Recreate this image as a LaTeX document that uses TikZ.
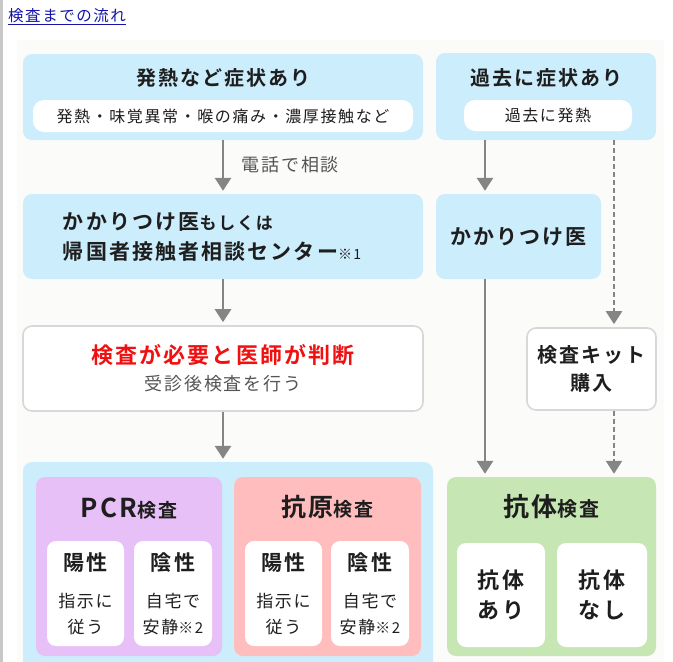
\documentclass[tikz,border=0pt]{standalone}
\usepackage{fontspec}
\setmainfont{Noto Sans CJK JP}[LetterSpace=10,BoldFont={Noto Sans CJK JP Bold}]
\usetikzlibrary{arrows.meta}
\definecolor{skyfill}{HTML}{CCEDFB}
\definecolor{pcrpurple}{HTML}{E8C0F8}
\definecolor{antigenpink}{HTML}{FFBDBD}
\definecolor{antibodygreen}{HTML}{C6E7B3}
\definecolor{arrowgray}{HTML}{858585}
\definecolor{boxline}{HTML}{D8D8D8}
\definecolor{linkblue}{HTML}{1414A8}
\definecolor{alertred}{HTML}{F01010}
\definecolor{subgray}{HTML}{555555}
\definecolor{ink}{HTML}{1E1E1E}
\definecolor{paper}{HTML}{FBFBFA}
\definecolor{framegray}{HTML}{C8C8C8}
\newcommand\fsz[2]{\fontsize{#1}{#2}\selectfont}

\tikzset{
  panel/.style={fill=skyfill, rounded corners=9pt, inner sep=0pt},
  pill/.style={fill=white, rounded corners=11pt, inner sep=0pt, text=ink},
  whitebox/.style={draw=boxline, line width=1.6pt, fill=white, rounded corners=9pt, inner sep=0pt},
  card/.style={fill=white, rounded corners=9pt, inner sep=0pt, align=center, text=ink},
  flowarrow/.style={draw=arrowgray, line width=2.8pt, shorten >=3pt,
    -{Triangle[width=16pt,length=13pt]}},
  dasharrow/.style={flowarrow, line width=2.4pt, dash pattern=on 5pt off 3pt},
}

\begin{document}
\begin{tikzpicture}[x=1pt, y=-1pt]
\clip (0,0) rectangle (673,662);
\fill[framegray] (0,0) rectangle (2.5,662);
\fill[paper] (17,40) rectangle (664,662);
\node[anchor=base west, inner sep=0pt, text=linkblue, font=\fsz{15.5}{18}] (heading) at (8,21) {\underline{検査までの流れ}};

% 上段
\node[panel, minimum width=400pt, minimum height=86pt] (symptom) at (223,97) {};
\node[font=\fsz{20}{24}\bfseries, text=ink] (symptomtitle) at (223,78) {発熱など症状あり};
\node[pill, minimum width=380pt, minimum height=32pt, font=\fsz{16}{20}] (symptomnote) at (223,116) {発熱・味覚異常・喉の痛み・濃厚接触など};

\node[panel, minimum width=220pt, minimum height=87pt] (past) at (546,96.5) {};
\node[font=\fsz{20}{24}\bfseries, text=ink] (pasttitle) at (546,78) {過去に症状あり};
\node[pill, minimum width=168pt, minimum height=31pt, font=\fsz{16}{20}] (pastnote) at (548,115.5) {過去に発熱};

% 中段
\node[panel, minimum width=400pt, minimum height=85pt] (consult) at (223,236.5) {};
\node[anchor=west, align=left, inner sep=0pt, text=ink, font=\fsz{21}{30}\bfseries] (consulttext) at ([xshift=40pt]consult.west)
  {かかりつけ医{\fsz{17}{20}もしくは}\\帰国者接触者相談センター{\fsz{14}{16}\mdseries ※1}};
\node[panel, minimum width=165pt, minimum height=85pt, text=ink, font=\fsz{21}{25}\bfseries] (clinic) at (518.5,236.5) {かかりつけ医};

\node[whitebox, minimum width=400pt, minimum height=85pt, align=center, font=\fsz{18}{27}] (judge) at (223,368.5)
  {{\color{alertred}\fsz{22}{27}\bfseries 検査が必要と医師が判断}\\{\color{subgray}受診後検査を行う}};
\node[whitebox, minimum width=129pt, minimum height=82pt, align=center, text=ink, font=\fsz{20}{28}\bfseries] (kit) at (591.5,369) {検査キット\\購入};

% 下段
\node[panel, minimum width=410pt, minimum height=214pt] (testarea) at (228,569) {};
\node[fill=pcrpurple, rounded corners=9pt, inner sep=0pt, minimum width=186pt, minimum height=179pt] (pcr) at (129,566.5) {};
\node[anchor=base, inner sep=0pt, text=ink, font=\bfseries] (pcrtitle) at (129,517) {{\fsz{26}{30}PCR}{\fsz{19}{24}検査}};
\node[card, minimum width=77pt, minimum height=105pt, font=\fsz{17}{26}] (pcrpos) at (85.5,593.5) {{\fsz{21}{26}\bfseries 陽性}\\[11pt]指示に\\従う};
\node[card, minimum width=78pt, minimum height=105pt, font=\fsz{17}{26}] (pcrneg) at (173,593.5) {{\fsz{21}{26}\bfseries 陰性}\\[11pt]自宅で\\安静{\fsz{15}{18}※2}};

\node[fill=antigenpink, rounded corners=9pt, inner sep=0pt, minimum width=187pt, minimum height=179pt] (antigen) at (327.5,566.5) {};
\node[anchor=base, inner sep=0pt, text=ink, font=\bfseries] (antigentitle) at (327.5,516) {{\fsz{25}{30}抗原}{\fsz{19}{24}検査}};
\node[card, minimum width=77pt, minimum height=105pt, font=\fsz{17}{26}] (agpos) at (283.5,593.5) {{\fsz{21}{26}\bfseries 陽性}\\[11pt]指示に\\従う};
\node[card, minimum width=78pt, minimum height=105pt, font=\fsz{17}{26}] (agneg) at (370,593.5) {{\fsz{21}{26}\bfseries 陰性}\\[11pt]自宅で\\安静{\fsz{15}{18}※2}};

\node[fill=antibodygreen, rounded corners=9pt, inner sep=0pt, minimum width=209pt, minimum height=179pt] (antibody) at (551.5,566.5) {};
\node[anchor=base, inner sep=0pt, text=ink, font=\bfseries] (antibodytitle) at (551.5,516) {{\fsz{26}{30}抗体}{\fsz{20}{24}検査}};
\node[card, minimum width=88pt, minimum height=104pt, font=\fsz{22}{30}\bfseries] (abpos) at (501,595) {抗体\\あり};
\node[card, minimum width=90pt, minimum height=104pt, font=\fsz{22}{30}\bfseries] (abneg) at (602,595) {抗体\\なし};

% 矢印
\coordinate (leftlane) at (485,0);
\coordinate (rightlane) at (614,0);
\draw[flowarrow] (symptom) -- node[pos=0.45, anchor=west, xshift=14pt, text=subgray, font=\fsz{18}{22}] (phone) {電話で相談} (consult);
\draw[flowarrow] (consult) -- (judge);
\draw[flowarrow] (judge.south) -- (judge.south |- testarea.north);
\draw[flowarrow] (past.south -| leftlane) -- (clinic.north -| leftlane);
\draw[flowarrow] (clinic.south -| leftlane) -- (antibody.north -| leftlane);
\draw[dasharrow] (past.south -| rightlane) -- (kit.north -| rightlane);
\draw[dasharrow] (kit.south -| rightlane) -- (antibody.north -| rightlane);
\end{tikzpicture}
\end{document}
